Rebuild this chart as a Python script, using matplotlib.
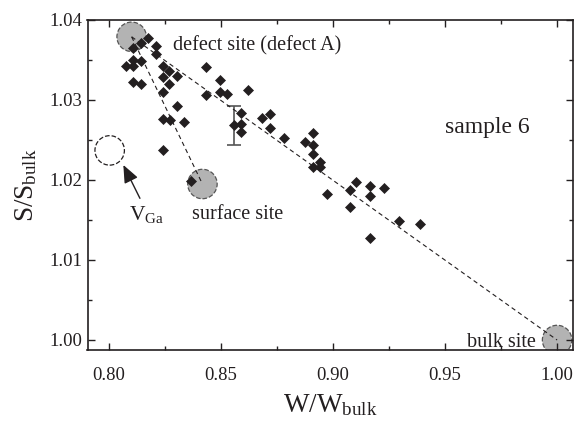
import matplotlib
matplotlib.use("Agg")
import matplotlib.pyplot as plt
from matplotlib.ticker import MultipleLocator

plt.rcParams['font.family'] = ['Liberation Serif', 'DejaVu Serif']
plt.rcParams['mathtext.default'] = 'regular'

# measured points (W/Wbulk, S/Sbulk)
w_vals = [0.8175, 0.8142, 0.8210, 0.8109, 0.8210, 0.8109, 0.8142, 0.8076, 0.8109, 0.8239,
          0.8433, 0.8270, 0.8239, 0.8302, 0.8494, 0.8109, 0.8142, 0.8270, 0.8239, 0.8433,
          0.8494, 0.8525, 0.8622, 0.8302, 0.8239, 0.8272, 0.8334, 0.8590, 0.8558, 0.8590,
          0.8590, 0.8685, 0.8719, 0.8719, 0.8783, 0.8239, 0.8911, 0.8877, 0.8911, 0.8911,
          0.8942, 0.8911, 0.8942, 0.8365, 0.9101, 0.9074, 0.9167, 0.9229, 0.9167, 0.8975,
          0.9074, 0.9167, 0.9293, 0.9388]
s_vals = [1.0377, 1.0371, 1.0368, 1.0365, 1.0357, 1.0350, 1.0349, 1.0342, 1.0343, 1.0343,
          1.0341, 1.0336, 1.0329, 1.0330, 1.0325, 1.0322, 1.0320, 1.0320, 1.0310, 1.0306,
          1.0310, 1.0308, 1.0312, 1.0292, 1.0276, 1.0275, 1.0273, 1.0284, 1.0269, 1.0270,
          1.0260, 1.0277, 1.0282, 1.0265, 1.0253, 1.0237, 1.0259, 1.0247, 1.0244, 1.0232,
          1.0222, 1.0216, 1.0216, 1.0199, 1.0197, 1.0187, 1.0193, 1.0190, 1.0180, 1.0182,
          1.0166, 1.0128, 1.0149, 1.0145]

# representative error bar
err_w = 0.8558
err_s = 1.02683
err_ds = 0.00245

# site positions
site_names = ['defect', 'surface', 'vga', 'bulk']
site_w = [0.8101, 0.8417, 0.8003, 1.0000]
site_s = [1.0379, 1.0195, 1.0237, 1.0000]

fig = plt.figure(figsize=(5.76, 4.24), dpi=100)
ax = fig.add_axes([87.5 / 576, 1 - 350 / 424, 485.5 / 576, 330 / 424])

ink = '#231f20'

# dashed guide lines from defect site
ax.plot([site_w[0], site_w[3]], [site_s[0], site_s[3]], ls=(0, (4, 3)), lw=0.8, color=ink, zorder=3)
ax.plot([site_w[0], site_w[1]], [site_s[0], site_s[1]], ls=(0, (4, 3)), lw=0.8, color=ink, zorder=3)

# site circles
gray_idx = [0, 1, 3]
ax.scatter([site_w[i] for i in gray_idx], [site_s[i] for i in gray_idx], s=450,
           facecolor='#b3b3b3', edgecolor='#555555', linewidths=0.9, linestyle='--', zorder=1)
ax.scatter([site_w[2]], [site_s[2]], s=450, facecolor='white', edgecolor=ink,
           linewidths=0.9, linestyle='--', zorder=1)

ax.plot(w_vals, s_vals, 'D', ms=4.8, color=ink, mec=ink, mew=0.5, zorder=4)
ax.errorbar([err_w], [err_s], yerr=[err_ds], fmt='none', ecolor='#555555',
            elinewidth=1.2, capsize=5, capthick=1.2, zorder=2)

ax.text(0.8286, 1.03625, 'defect site (defect A)', fontsize=14.5, color=ink)
ax.text(0.9500, 1.02584, 'sample 6', fontsize=17, color=ink)
ax.text(0.8369, 1.01509, 'surface site', fontsize=14.5, color=ink)
ax.text(0.9597, 0.99916, 'bulk site', fontsize=14.5, color=ink)
ax.text(0.8091, 1.0150, r'$V_{Ga}$', fontsize=15.5, color=ink)
ax.annotate('', xy=(0.8064, 1.02188), xytext=(0.8138, 1.01771),
            arrowprops=dict(arrowstyle='-|>,head_length=0.6,head_width=0.25',
                            color=ink, lw=1.0, mutation_scale=18, shrinkA=0, shrinkB=0))

ax.set_xlim(0.7904, 1.0071)
ax.set_ylim(0.99875, 1.04)
ax.xaxis.set_major_locator(MultipleLocator(0.05))
ax.xaxis.set_minor_locator(MultipleLocator(0.025))
ax.yaxis.set_major_locator(MultipleLocator(0.01))
ax.yaxis.set_minor_locator(MultipleLocator(0.005))
ax.xaxis.set_major_formatter(plt.FormatStrFormatter('%.2f'))
ax.yaxis.set_major_formatter(plt.FormatStrFormatter('%.2f'))
ax.tick_params(which='both', direction='in', top=True, right=True, color=ink,
               labelcolor=ink, labelsize=13.5, width=1.0)
ax.tick_params(axis='x', which='both', pad=12)
ax.tick_params(axis='y', which='both', pad=4)
ax.tick_params(which='major', length=5)
ax.tick_params(which='minor', length=3)
for sp in ax.spines.values():
    sp.set_linewidth(1.2)
    sp.set_color(ink)

ax.set_xlabel(r'$W/W_{bulk}$', fontsize=19.5, color=ink, labelpad=6)
ax.set_ylabel(r'$S/S_{bulk}$', fontsize=19.5, color=ink, labelpad=7)

fig.savefig('out.png', dpi=100)
